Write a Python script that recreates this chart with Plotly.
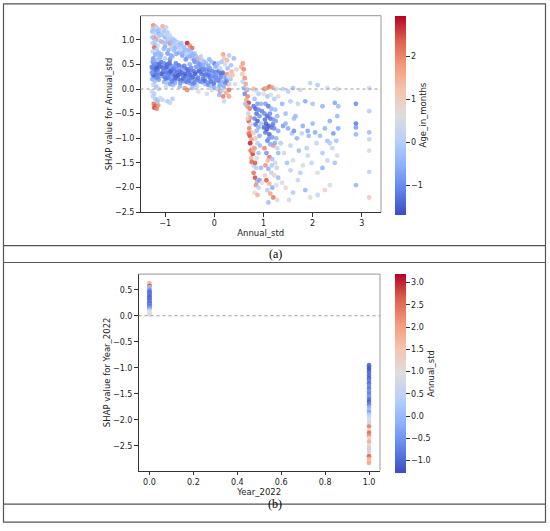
import plotly.graph_objects as go

# ---- panel (a): SHAP dependence of Annual_std, coloured by Age_in_months ----
annual_std = [
    # left column around -1.2
    -1.24, -1.2, -1.25, -1.22, -1.18, -1.15, -1.26, -1.2, -1.13, -1.23,
    -1.18, -1.25, -1.2, -1.15, -1.22, -1.17, -1.25, -1.13, -1.2, -1.24,
    -1.25, -1.2, -1.16, -1.23, -1.18, -1.13, -1.26, -1.21, -1.15, -1.24,
    -1.19, -1.14, -1.25, -1.2, -1.16, -1.22, -1.18, -1.26, -1.13, -1.21,
    -1.24, -1.18, -1.25, -1.2, -1.16, -1.23, -1.19, -1.14, -1.22, -1.17,
    # -1.1 .. -0.8
    -1.05, -0.98, -1.02, -0.95, -1.08, -0.9, -1.0, -0.85, -0.95, -1.05,
    -0.9, -0.8, -1.0, -0.88, -0.82, -1.08, -0.95, -0.85, -1.0, -0.9,
    -1.08, -1.02, -0.96, -0.9, -0.84, -1.06, -1.0, -0.93, -0.87, -0.81,
    -1.04, -0.98, -0.92, -0.86, -0.8, -1.06, -1.0, -0.94, -0.88, -0.82,
    -1.02, -0.96, -0.9, -0.84, -1.05, -0.95, -0.9, -0.85, -0.98, -0.8,
    # -0.8 .. -0.3
    -0.75, -0.7, -0.65, -0.55, -0.5, -0.45, -0.6, -0.5, -0.4, -0.72,
    -0.65, -0.55, -0.45, -0.35, -0.4, -0.78, -0.72, -0.66, -0.6, -0.54,
    -0.48, -0.42, -0.36, -0.76, -0.7, -0.64, -0.58, -0.52, -0.46, -0.4,
    -0.34, -0.74, -0.68, -0.62, -0.56, -0.5, -0.44, -0.38, -0.7, -0.6,
    -0.55, -0.45, -0.35, -0.65, -0.5,
    # -0.3 .. 0.45
    -0.3, -0.25, -0.2, -0.1, 0.0, 0.05, 0.18, 0.2, 0.3, 0.15,
    -0.28, -0.22, -0.16, -0.1, -0.04, 0.02, 0.08, 0.14, 0.2, 0.26,
    -0.26, -0.2, -0.14, -0.08, -0.02, 0.04, 0.1, 0.16, 0.22, 0.28,
    -0.24, -0.18, -0.12, -0.06, 0.0, 0.06, 0.12, 0.18, 0.2, 0.3,
    0.33, 0.35, 0.4, 0.45, 0.42, 0.3, -0.15, 0.1,
    # steep drop 0.55 .. 0.8
    0.58, 0.55, 0.6, 0.57, 0.62, 0.58, 0.64, 0.6, 0.66, 0.62,
    0.68, 0.65, 0.7, 0.67, 0.72, 0.69, 0.73, 0.7, 0.74, 0.71,
    0.75, 0.72, 0.76, 0.73, 0.77, 0.74, 0.78, 0.75, 0.76, 0.8,
    0.66, 0.63,
    # 0.8 .. 0.95
    0.8, 0.85, 0.9, 0.82, 0.88, 0.8, 0.84, 0.9, 0.86, 0.92,
    0.82, 0.88, 0.84, 0.9, 0.86, 0.8, 0.92, 0.84, 0.88, 0.82,
    0.9, 0.86, 0.8, 0.83, 0.87, 0.92, 0.85, 0.9, 0.82, 0.88,
    0.95, 0.95, 0.95,
    # 1.0 .. 1.3
    1.02, 1.06, 1.12, 1.18, 1.25, 1.0, 1.08, 1.15, 1.22, 1.3,
    1.04, 1.1, 1.16, 1.24, 1.02, 1.08, 1.14, 1.2, 1.28, 1.05,
    1.1, 1.16, 1.22, 1.3, 1.04, 1.12, 1.18, 1.26, 1.08, 1.14,
    1.2, 1.28, 1.02, 1.06, 1.12, 1.18, 1.24, 1.04, 1.1, 1.16,
    1.22, 1.3, 1.06, 1.12, 1.18, 1.26, 1.08, 1.14, 1.2, 1.1,
    1.28, 1.3,
    # sparse 1.35 .. 2.55
    1.4, 1.5, 1.6, 1.75, 1.95, 2.1, 2.3, 2.5,
    1.38, 1.45, 1.55, 1.65, 1.7, 1.85, 2.0, 2.2, 2.45, 2.52,
    1.4, 1.5, 1.58, 1.62, 1.68, 1.78, 1.9, 1.92, 2.05, 2.08,
    2.25, 2.3, 2.35, 2.42, 2.48, 2.52, 2.4, 2.2,
    1.35, 1.42, 1.48, 1.55, 1.6, 1.72, 1.8, 1.88, 1.98, 2.1,
    1.38, 1.45, 1.52, 1.6, 1.7, 1.85, 1.95, 2.1, 2.25, 2.35,
    2.45, 2.5, 2.2, 1.75,
    # outliers near 2.9 and 3.15
    2.88, 2.88, 2.88, 2.88, 2.88, 3.15, 3.15, 3.15, 3.15, 3.15, 3.15, 3.15,
    # extra: dense blue band
    -1.11, -1.07, -1.03, -0.99, -0.97, -0.93, -0.91, -0.89, -0.86, -0.83,
    -0.79, -0.77, -0.74, -0.71, -0.69, -0.67, -0.63, -0.61, -0.59, -0.57,
    -0.53, -0.51, -0.49, -0.47, -0.43, -0.41, -0.39, -0.37, -0.33, -0.31,
    -0.29, -0.27, -0.23, -0.21, -0.19, -0.17, -0.13, -0.11, -0.09, -0.07,
    -0.03, -0.01, 0.03, 0.07, 0.09, 0.11, 0.13, 0.17, 0.19, 0.23,
    0.25, 0.27, 0.29, 0.31, 0.34, 0.37, 0.24, 0.16, -0.05, -0.32,
    # extra: upper light band
    -1.13, -1.09, -1.06, -1.03, -0.99, -0.97, -0.93, -0.91, -0.87, -0.84,
    -0.81, -0.79, -0.77, -0.73, -0.69, -0.67, -0.63, -0.61, -0.57, -0.53,
    -0.49, -0.47, -0.43, -0.41, -0.37, -0.33, -0.29, -0.27, -0.23, -0.17,
    -0.12, -0.06, 0.02, 0.08, 0.12, 0.22, 0.26, -0.58, -0.88, -1.1,
    # extra: left column
    -1.27, -1.24, -1.21, -1.19, -1.17, -1.15, -1.12, -1.27, -1.23, -1.14,
    -1.26, -1.17, -1.12, -1.21, -1.16, -1.27, -1.22, -1.15, -1.1, -1.13,
    # extra: middle and right
    0.97, 1.03, 1.07, 1.13, 1.19, 1.25, 1.11, 1.01, 0.93, 0.97,
    1.23, 1.27, 1.17, 1.09, 1.03, 0.85, 0.79, 0.83, 0.7, 0.68,
    1.45, 1.62, 1.8, 2.0, 2.15, 2.35, 2.5, 1.55, 1.9, 2.3,
]

shap_annual = [
    1.29, 1.27, 1.22, 1.19, 1.21, 1.17, 1.16, 1.13, 1.12, 1.04,
    1.0, 0.93, 0.9, 0.88, 0.84, 0.8, 0.76, 0.74, 0.7, 0.62,
    0.55, 0.52, 0.5, 0.47, 0.45, 0.44, 0.42, 0.4, 0.38, 0.36,
    0.34, 0.33, 0.31, 0.3, 0.28, 0.25, 0.22, 0.2, 0.19, 0.15,
    0.08, 0.05, -0.15, -0.2, -0.22, -0.3, -0.34, -0.33, -0.38, -0.4,

    1.27, 1.25, 1.18, 1.15, 1.1, 1.08, 1.05, 1.02, 0.97, 0.95,
    0.92, 0.9, 0.86, 0.84, 0.78, 0.7, 0.72, 0.66, 0.62, 0.6,
    0.55, 0.52, 0.5, 0.48, 0.46, 0.44, 0.42, 0.4, 0.38, 0.36,
    0.35, 0.33, 0.31, 0.29, 0.27, 0.26, 0.24, 0.22, 0.2, 0.18,
    0.14, 0.12, 0.1, 0.08, -0.22, -0.25, -0.28, -0.2, 0.05, 0.12,

    0.95, 0.9, 0.86, 0.93, 0.88, 0.83, 0.8, 0.76, 0.72, 0.74,
    0.68, 0.65, 0.62, 0.6, 0.55, 0.52, 0.48, 0.45, 0.42, 0.4,
    0.38, 0.36, 0.34, 0.34, 0.3, 0.28, 0.26, 0.24, 0.22, 0.2,
    0.18, 0.2, 0.18, 0.16, 0.14, 0.12, 0.1, 0.08, 0.05, 0.02,
    -0.02, 0.02, 0.05, 0.38, 0.5,

    0.62, 0.58, 0.55, 0.6, 0.52, 0.48, 0.7, 0.62, 0.68, 0.55,
    0.45, 0.42, 0.4, 0.38, 0.36, 0.34, 0.32, 0.3, 0.28, 0.3,
    0.3, 0.28, 0.26, 0.22, 0.2, 0.18, 0.16, 0.14, 0.12, 0.1,
    0.14, 0.1, 0.08, 0.05, 0.03, 0.0, -0.05, -0.15, -0.25, -0.02,
    0.2, 0.35, 0.62, 0.4, 0.1, -0.15, -0.1, -0.12,

    0.52, 0.45, 0.4, 0.3, 0.22, 0.15, 0.1, 0.02, -0.02, -0.1,
    -0.15, -0.22, -0.28, -0.35, -0.4, -0.5, -0.58, -0.65, -0.72, -0.8,
    -0.88, -0.95, -1.02, -1.1, -1.18, -1.25, -1.32, -1.4, -1.48, -1.55,
    0.0, -0.3,

    0.0, -0.02, -0.1, -0.2, -0.3, -0.35, -0.4, -0.42, -0.5, -0.55,
    -0.6, -0.65, -0.72, -0.78, -0.85, -0.9, -0.95, -1.0, -1.1, -1.2,
    -1.3, -1.4, -1.7, -1.8, -1.88, -1.85, -1.95, -2.0, -2.1, -2.15,
    -0.3, -0.7, -1.6,

    0.0, 0.02, 0.05, 0.03, 0.0, -0.1, -0.15, -0.12, -0.2, -0.15,
    -0.3, -0.35, -0.4, -0.42, -0.5, -0.55, -0.6, -0.62, -0.55, -0.7,
    -0.75, -0.78, -0.8, -0.85, -0.88, -0.92, -0.98, -1.0, -1.05, -1.12,
    -1.15, -1.2, -1.2, -1.3, -1.38, -1.42, -1.5, -1.55, -1.62, -1.7,
    -1.75, -1.8, -1.85, -1.92, -2.0, -1.95, -2.05, -2.12, -2.2, -2.3,
    -2.25, -1.3,

    0.0, -0.05, 0.02, -0.02, 0.12, 0.08, 0.02, 0.0,
    -0.3, -0.5, -0.25, -0.55, -0.3, -0.25, -0.3, -0.35, -0.28, -0.35,
    -0.75, -0.8, -0.9, -0.85, -1.0, -0.9, -0.85, -0.95, -0.88, -1.1,
    -0.8, -1.05, -1.1, -0.9, -1.05, -0.8, -1.2, -1.3,
    -1.1, -1.3, -1.5, -1.65, -1.45, -1.25, -1.55, -1.2, -1.5, -1.7,
    -1.9, -2.0, -2.25, -2.1, -1.85, -2.05, -2.2, -2.15, -2.05, -1.95,
    -1.5, -1.35, -1.6, -1.7,

    -0.3, -0.7, -0.78, -0.92, -1.95, 0.02, -0.45, -0.88, -1.02, -1.25, -1.68, -2.2,

    0.47, 0.31, 0.39, 0.21, 0.45, 0.27, 0.53, 0.35, 0.15, 0.41,
    0.23, 0.44, 0.27, 0.37, 0.12, 0.33, 0.21, 0.47, 0.31, 0.19,
    0.35, 0.17, 0.29, 0.43, 0.25, 0.13, 0.31, 0.45, 0.23, 0.37,
    0.15, 0.35, 0.21, 0.39, 0.17, 0.31, 0.13, 0.29, 0.42, 0.15,
    0.27, 0.11, 0.25, 0.21, 0.37, 0.07, 0.23, 0.33, 0.05, 0.21,
    0.15, 0.42, 0.25, 0.1, 0.48, 0.28, -0.08, -0.03, -0.02, -0.05,

    1.07, 0.97, 1.13, 0.81, 0.93, 1.09, 0.79, 1.01, 0.95, 0.87,
    0.99, 0.83, 0.71, 0.85, 0.79, 0.93, 0.73, 0.85, 0.71, 0.79,
    0.67, 0.75, 0.69, 0.59, 0.66, 0.53, 0.5, 0.66, 0.48, 0.52,
    0.47, 0.55, 0.45, 0.52, 0.42, 0.5, 0.58, 0.6, 0.68, 0.65,

    0.45, 0.28, 0.49, 0.37, 0.43, 0.24, 0.51, 0.33, 0.58, 0.6,
    1.05, 1.25, 1.2, 0.97, 0.7, -0.05, -0.1, -0.25, -0.18, 0.0,

    -0.45, -0.62, -0.82, -0.5, -0.72, -0.65, -1.0, -0.78, -1.15, -1.9,
    -1.1, -1.6, -1.55, -1.45, -1.75, -1.6, -1.25, -1.5, -0.9, -0.6,
    -0.7, -0.6, -0.75, -0.7, -0.95, -0.65, -0.55, -1.15, -1.35, -1.45,
]

age_months = [
    2.0, 1.5, 0.0, -0.3, 0.2, -0.5, -0.2, 0.1, -0.4, 2.2,
    1.8, 0.0, -0.2, 0.3, 2.3, -0.1, 0.1, -0.4, -0.6, -0.8,
    -1.0, -1.2, -0.8, -1.3, -1.0, -1.1, -0.9, -1.4, -1.2, -1.0,
    -1.3, -0.7, -1.1, -0.5, -1.2, -0.9, -1.0, -0.6, -0.8, -0.3,
    0.2, -0.2, 0.1, 0.0, -0.3, 2.2, 2.4, 1.9, 2.5, 2.0,

    1.6, 0.1, -0.2, 0.0, -0.3, 0.2, -0.5, 0.0, -0.2, 1.7,
    2.0, -0.1, -0.6, 0.1, -0.3, -0.5, -0.8, -0.4, 0.0, -0.9,
    -1.2, -1.0, -1.3, -1.1, -0.8, -1.4, -1.2, -1.0, -1.3, -1.1,
    -0.9, -1.3, -1.2, -1.0, -1.4, -0.7, -1.1, -1.3, -0.9, -1.2,
    -0.5, -0.2, -0.8, -0.4, 0.1, -0.1, 0.2, 0.0, 0.3, -0.6,

    0.0, -0.3, -0.1, 2.8, 2.0, 2.3, -0.4, 0.1, -0.2, -0.6,
    -0.8, -0.5, 0.0, 1.5, -0.9, -1.1, -1.3, -1.0, -1.2, -1.4,
    -1.0, -1.2, -0.8, -1.2, -1.4, -1.1, -1.3, -1.0, -1.2, -0.9,
    -1.1, -1.0, -1.3, -0.9, -1.2, -0.7, -1.0, -0.6, -0.4, 1.8,
    2.0, -0.3, 0.2, -0.5, -0.6,

    1.6, 0.0, -0.3, -0.5, -1.2, -0.4, 1.7, 1.2, 0.0, -0.2,
    -1.0, -1.2, -0.9, -1.3, -1.0, -1.1, -0.8, -1.2, -0.6, 1.8,
    -1.1, -1.3, -0.9, -1.2, -0.7, -1.0, -1.2, -0.5, -0.9, 2.0,
    -0.8, -0.5, -1.0, -0.3, -0.6, 0.0, 1.9, 2.1, 0.3, 2.2,
    -0.2, 1.5, -0.3, 0.4, 0.6, 1.7, 0.5, -0.4,

    1.8, 1.5, 2.0, 1.2, 1.9, 0.1, 1.7, -0.5, 2.2, -1.0,
    2.0, 1.6, 2.6, 1.8, 2.1, 0.2, 1.9, 2.4, 0.4, 2.0,
    1.4, 2.5, 1.8, 2.8, 0.5, 2.2, 2.6, 1.5, 2.3, 0.2,
    0.0, -0.2,

    1.5, 0.4, 0.0, -0.3, -0.8, -1.2, -1.4, -1.0, -1.3, -0.9,
    -1.1, -1.5, -1.2, -0.6, -0.3, 0.9, -0.5, 1.2, 0.0, 1.8,
    -0.2, 0.5, 2.2, 2.5, -0.4, -0.8, 1.9, 0.2, 0.8, 1.5,
    -0.5, -0.2, -0.3,

    2.0, 1.6, 2.2, 1.8, 0.3, 0.6, -0.2, 0.5, 0.0, 0.8,
    -0.8, -1.2, -0.5, -0.3, -1.0, -1.4, -1.3, -0.9, -0.4, -1.5,
    -1.6, -1.3, -1.0, -0.6, -1.2, -1.4, -0.8, -0.5, -1.1, -0.6,
    1.8, 0.2, 2.0, -0.9, 2.2, -0.2, 0.4, 1.9, -0.5, 0.1,
    0.9, -0.3, 2.4, 1.5, -0.6, 0.5, 0.0, 1.7, 2.1, -0.3,
    0.8, -0.4,

    0.2, 0.0, -0.2, 0.4, 0.1, -0.1, 0.3, 0.5,
    -0.5, -0.3, 0.0, -0.4, 0.2, -0.6, -0.2, -0.5, -0.7, -0.3,
    -0.8, -0.6, -0.2, -0.9, -0.5, 0.1, -0.7, -0.4, -0.6, 0.2,
    -0.5, -0.3, 0.0, -0.8, -0.2, -0.6, 0.3, -0.1,
    0.0, 0.3, -0.2, 0.1, 0.5, -0.3, 0.4, 0.0, 0.2, 0.6,
    0.5, 0.8, 0.4, -0.1, 0.3, -0.4, 0.7, 0.2, 1.0, 0.6,
    -0.2, 0.4, -0.5, 0.0,

    -1.0, -1.2, -0.8, -0.5, -0.4, 0.3, 0.0, -0.3, 0.2, 0.8, 0.1, 1.2,

    -1.3, -1.5, -1.1, -1.2, -1.4, -1.0, -1.3, -1.5, -1.1, -1.2,
    -1.4, -1.0, -1.5, -1.2, -0.9, -1.3, -1.4, -1.1, -1.5, -1.0,
    -1.3, -1.2, -1.4, -1.0, -1.3, -1.1, -1.5, -0.9, -1.2, -1.4,
    -1.0, -1.3, -1.2, -1.0, -1.4, -1.1, -0.9, -1.3, -0.8, -1.2,
    -1.0, -1.3, -1.1, -0.9, -1.2, -0.7, -1.0, -1.3, -0.6, -0.8,
    -1.1, -0.3, 0.2, 0.5, -0.2, 1.3, 1.6, 0.1, 0.4, 0.6,

    -0.1, -0.3, 0.0, -0.4, -0.2, 0.1, -0.5, -0.1, -0.3, 0.0,
    -0.2, -0.4, -0.6, -0.1, 0.1, -0.3, -0.5, -0.2, 0.0, -0.4,
    -0.6, -0.2, -0.5, -0.8, -0.3, -0.7, -0.9, 0.1, -0.6, -0.4,
    -0.7, -0.3, -0.5, -0.2, 0.2, 0.4, 1.4, -0.9, -0.6, -0.5,

    -1.1, -1.4, -0.9, -1.2, -1.5, -1.0, -1.3, -0.8, -0.6, -0.4,
    -0.1, 0.2, -0.2, 0.0, -0.3, 0.3, 0.0, -0.2, 0.4, 0.1,

    -1.1, -1.3, -1.5, -1.0, -1.2, -0.7, -0.9, -1.4, -0.3, 0.6,
    -0.6, 0.2, -0.1, 1.4, 1.0, 0.0, 1.7, 2.4, 2.2, 1.1,
    -0.5, -0.3, -0.6, -0.4, -0.3, -0.6, -0.4, 0.1, 0.3, 0.2,
]

# ---- panel (b): SHAP dependence of Year_2022, coloured by Annual_std ----
year_2022 = [0.0] * 28 + [1.0] * 39
shap_year = [
    0.63, 0.6, 0.57, 0.55, 0.52, 0.5, 0.48, 0.46, 0.44, 0.42,
    0.4, 0.38, 0.36, 0.34, 0.32, 0.3, 0.28, 0.26, 0.24, 0.22,
    0.2, 0.18, 0.16, 0.14, 0.1, 0.07, 0.04, 0.02,
    -0.95, -0.98, -1.02, -1.06, -1.1, -1.15, -1.2, -1.25, -1.3, -1.35,
    -1.4, -1.45, -1.5, -1.55, -1.6, -1.65, -1.7, -1.75, -1.8, -1.85,
    -1.9, -1.95, -2.0, -2.05, -2.1, -2.13, -2.2, -2.25, -2.3, -2.35,
    -2.42, -2.5, -2.55, -2.6, -2.65, -2.7, -2.75, -2.8, -2.83,
]
annual_std_b = [
    1.8, 1.6, 2.9, 0.3, 0.0, -0.4, -0.6, -0.8, -0.9, -1.0,
    -0.7, -1.0, -0.9, -1.1, -0.8, -1.0, -0.9, -0.7, -1.0, -0.8,
    -0.6, -0.9, -0.5, -0.3, 0.6, 0.9, 1.0, 0.8,
    -1.1, -1.0, -1.2, -1.1, -0.9, -1.0, -1.1, -0.8, -1.0, -0.7,
    -0.9, -0.6, -0.8, -0.5, -0.9, -1.1, -0.8, -0.3, 0.0, -0.4,
    0.3, 0.6, 0.9, 0.5, 1.2, 2.4, 1.5, 2.6, 2.2, 1.3,
    1.9, 0.8, 1.6, 0.4, 1.4, 2.7, 1.8, 1.6, 1.9,
]

assert len(annual_std) == len(shap_annual) == len(age_months)
assert len(year_2022) == len(shap_year) == len(annual_std_b)

# matplotlib "coolwarm"
coolwarm = [
    [0.0, "rgb(59,76,192)"], [0.125, "rgb(98,130,234)"], [0.25, "rgb(141,176,254)"],
    [0.375, "rgb(184,208,249)"], [0.5, "rgb(221,221,221)"], [0.625, "rgb(245,196,173)"],
    [0.75, "rgb(244,154,123)"], [0.875, "rgb(222,96,77)"], [1.0, "rgb(180,4,38)"],
]

W, H = 550, 531


def px(x):
    return x / W


def py(y):
    return 1 - y / H


fig = go.Figure()

fig.add_trace(go.Scatter(
    x=annual_std, y=shap_annual, mode="markers",
    marker=dict(size=4.8, color=age_months, coloraxis="coloraxis", opacity=0.85, line=dict(width=0)),
    xaxis="x", yaxis="y", hoverinfo="skip",
))
fig.add_trace(go.Scatter(
    x=year_2022, y=shap_year, mode="markers",
    marker=dict(size=4.6, color=annual_std_b, coloraxis="coloraxis2", opacity=0.85, line=dict(width=0)),
    xaxis="x2", yaxis="y2", hoverinfo="skip",
))

axis_style = dict(
    showgrid=False, zeroline=False, showline=True, linecolor="#333", linewidth=1,
    ticks="outside", ticklen=3.5, tickcolor="#333", tickfont=dict(size=8, color="#222"),
)
title_font = dict(size=8.5, color="#222")

cb_common = dict(
    thickness=10.5, thicknessmode="pixels", lenmode="pixels", xanchor="left", yanchor="top",
    outlinewidth=0, xpad=0, ypad=0, ticks="outside", ticklen=4, tickcolor="#333",
    tickfont=dict(size=8, color="#222"),
)

fig.update_layout(
    width=W, height=H, margin=dict(l=0, r=0, t=0, b=0),
    paper_bgcolor="white", plot_bgcolor="white", showlegend=False,
    font=dict(family="DejaVu Sans", size=8, color="#222"),
    xaxis=dict(domain=[px(140.5), px(381)], range=[-1.5, 3.39], anchor="y",
               tickvals=[-1, 0, 1, 2, 3],
               title=dict(text="Annual_std", font=title_font, standoff=1), **axis_style),
    yaxis=dict(domain=[py(214.3), py(15.7)], range=[-2.5, 1.49], anchor="x",
               tickvals=[-2.5, -2.0, -1.5, -1.0, -0.5, 0.0, 0.5, 1.0], tickformat=".1f",
               title=dict(text="SHAP value for Annual_std", font=title_font, standoff=0), **axis_style),
    xaxis2=dict(domain=[px(138.5), px(380)], range=[-0.05, 1.05], anchor="y2",
                tickvals=[0.0, 0.2, 0.4, 0.6, 0.8, 1.0], tickformat=".1f",
                title=dict(text="Year_2022", font=title_font, standoff=1), **axis_style),
    yaxis2=dict(domain=[py(475), py(276.7)], range=[-2.975, 0.80], anchor="x2",
                tickvals=[-2.5, -2.0, -1.5, -1.0, -0.5, 0.0, 0.5], tickformat=".1f",
                title=dict(text="SHAP value for Year_2022", font=title_font, standoff=0), **axis_style),
    coloraxis=dict(
        colorscale=coolwarm, cmin=-1.68, cmax=2.94,
        colorbar=dict(x=px(395), y=py(15.7), len=198.6, tickvals=[-1, 0, 1, 2],
                      title=dict(text="Age_in_months", side="right", font=title_font), **cb_common),
    ),
    coloraxis2=dict(
        colorscale=coolwarm, cmin=-1.28, cmax=3.19,
        colorbar=dict(x=px(395), y=py(276.7), len=199,
                      tickvals=[-1.0, -0.5, 0.0, 0.5, 1.0, 1.5, 2.0, 2.5, 3.0], tickformat=".1f",
                      title=dict(text="Annual_std", side="right", font=title_font), **cb_common),
    ),
)

shapes = []
# dotted zero line and light top/right spines for each panel
for xr, yr in (("x", "y"), ("x2", "y2")):
    shapes.append(dict(type="line", xref=xr + " domain", yref=yr, x0=0, x1=1, y0=0, y1=0,
                       line=dict(color="#999", width=1, dash="dot")))
    shapes.append(dict(type="line", xref=xr + " domain", yref=yr + " domain", x0=0, x1=1, y0=1, y1=1,
                       line=dict(color="#aaa", width=1.2)))
    shapes.append(dict(type="line", xref=xr + " domain", yref=yr + " domain", x0=1, x1=1, y0=0, y1=1,
                       line=dict(color="#aaa", width=1.2)))

# table frame around the two panels
frame = dict(color="#555", width=1.2)
shapes.append(dict(type="rect", xref="paper", yref="paper", x0=px(3.5), x1=px(545.5),
                   y0=py(527), y1=py(4), line=frame))
for yline in (248, 265, 509):
    shapes.append(dict(type="line", xref="paper", yref="paper", x0=px(3.5), x1=px(545.5),
                       y0=py(yline), y1=py(yline), line=frame))
fig.update_layout(shapes=shapes)

for label, yc in (("(a)", 256.5), ("(b)", 518)):
    fig.add_annotation(text=label, x=px(275), y=py(yc), xref="paper", yref="paper",
                       showarrow=False, font=dict(family="Liberation Serif", size=12, color="black"))

# page body has a default margin; drop it so the figure sits at the window origin
fig.write_html(
    "out.html",
    config={"displayModeBar": False},
    post_script="document.body.style.margin='0';document.body.style.overflow='hidden';",
)
